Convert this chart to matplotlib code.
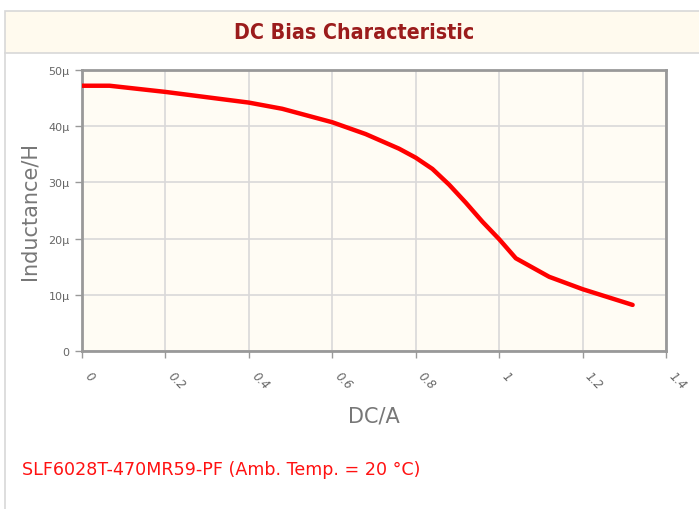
import matplotlib.pyplot as plt
from matplotlib.patches import Rectangle
from matplotlib.lines import Line2D

# data (DC current in A, inductance in µH)
dc_current = [0, 0.066, 0.2, 0.4, 0.48, 0.6, 0.68, 0.76, 0.8, 0.84, 0.88, 0.92, 0.96, 1.0, 1.04, 1.12, 1.2, 1.32]
inductance = [47.2, 47.2, 46.1, 44.2, 43.1, 40.7, 38.6, 36.0, 34.4, 32.4, 29.6, 26.4, 23.0, 19.9, 16.5, 13.2, 11.0, 8.2]
x_ticks = [0, 0.2, 0.4, 0.6, 0.8, 1.0, 1.2, 1.4]
x_labels = ['0', '0.2', '0.4', '0.6', '0.8', '1', '1.2', '1.4']
y_ticks = [0, 10, 20, 30, 40, 50]
y_labels = ['0', '10µ', '20µ', '30µ', '40µ', '50µ']

W, H = 699, 510
fig = plt.figure(figsize=(W / 100, H / 100), dpi=100)
fig.patch.set_facecolor('white')

# header band
fig.patches.append(Rectangle((5 / W, 1 - 54 / H), 1, 42 / H, transform=fig.transFigure,
                             facecolor='#fffaee', edgecolor='#d8d8d8', lw=1.2))
fig.lines.append(Line2D([5 / W, 5 / W], [0, 1 - 54 / H], transform=fig.transFigure,
                        color='#d8d8d8', lw=1.2))
fig.text(0.5 + 5 / W, 1 - 33 / H, 'DC Bias Characteristic', ha='center', va='center',
         fontsize=15.3, fontweight='bold', color='#9b1c1c', fontstretch='condensed')

ax = fig.add_axes([82 / W, 1 - 352 / H, (666 - 82) / W, (352 - 71) / H])
ax.set_facecolor('#fffcf4')
ax.plot(dc_current, inductance, color='#ff0000', lw=3.2, solid_capstyle='round',
        solid_joinstyle='round', zorder=3)
ax.set_xlim(0, 1.4)
ax.set_ylim(0, 50)
ax.set_xticks(x_ticks)
ax.set_xticklabels(x_labels, rotation=-45, ha='left', va='top', fontsize=8.5,
                   color='#666666', style='italic')
ax.set_yticks(y_ticks)
ax.set_yticklabels(y_labels, fontsize=8, color='#666666')
ax.grid(True, color='#d9d9d9', lw=1.2)
ax.set_axisbelow(True)
for s in ax.spines.values():
    s.set_color('#999999')
    s.set_linewidth(2)
ax.tick_params(axis='both', color='#999999', length=5, width=1, pad=4)
ax.tick_params(axis='x', pad=8)
ax.set_xlabel('DC/A', fontsize=15, color='#777777', labelpad=10)
ax.set_ylabel('Inductance/H', fontsize=15, color='#777777', labelpad=6)

fig.text(22 / W, 1 - 470 / H, 'SLF6028T-470MR59-PF (Amb. Temp. = 20 °C)', ha='left',
         va='center', fontsize=12.6, color='#ff1111')

fig.savefig('out.png', dpi=100)
